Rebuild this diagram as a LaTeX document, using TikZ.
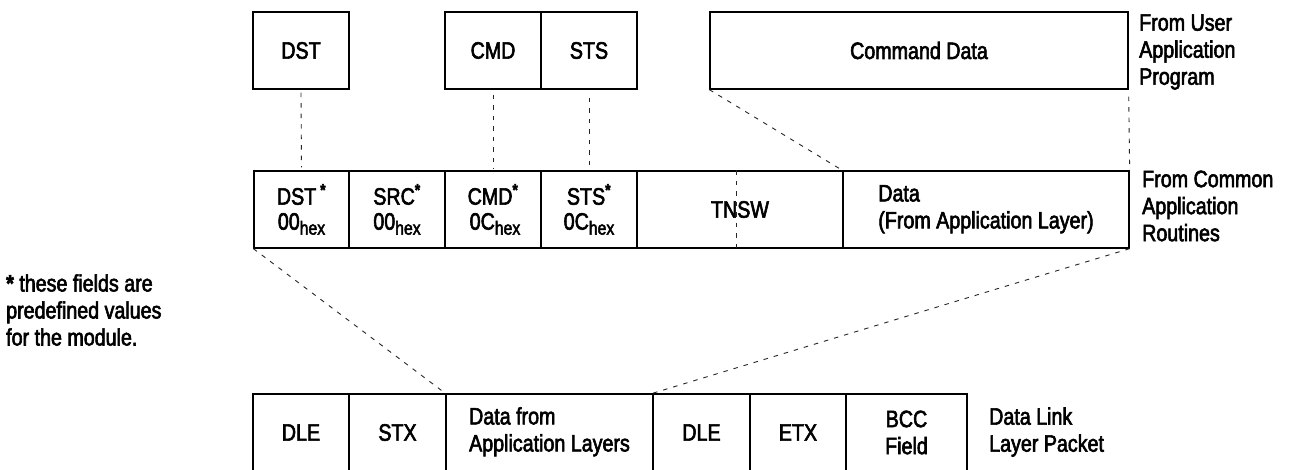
\documentclass[tikz,border=0pt]{standalone}
\usepackage{fontspec}
\setmainfont{Liberation Sans}[FakeStretch=0.83,FakeBold=2.5]
\newcommand{\hexsub}{\raisebox{-5pt}{\fontsize{19}{19}\selectfont hex}}
\begin{document}
\begin{tikzpicture}[x=1pt,y=-1pt,
  every node/.style={font=\fontsize{23.7}{27}\selectfont, text=black},
  cell/.style={draw=black, line width=1.3pt, minimum height=77pt, inner sep=0pt, align=center},
  link/.style={draw=black!85, line width=0.9pt, dash pattern=on 4.5pt off 6pt},
  lbl/.style={inner sep=0pt, align=left, anchor=west}]
\clip (0,0) rectangle (1293,470);
\fill[white] (0,0) rectangle (1293,470);
% top row
\node[cell, minimum width=96pt]  (tDST) at (301,50.5) {DST};
\node[cell, minimum width=96pt]  (tCMD) at (493,50.5) {CMD};
\node[cell, minimum width=96pt]  (tSTS) at (589,50.5) {STS};
\node[cell, minimum width=418pt] (tCD)  at (919,50.5) {Command Data};
% middle row
\node[cell, minimum width=95pt]  (mDST)  at (301.5,209.5) {DST\,\textsuperscript{\textbf{*}}\\[-2pt]00\hexsub};
\node[cell, minimum width=96pt]  (mSRC)  at (397,209.5) {SRC\textsuperscript{\textbf{*}}\\[-2pt]00\hexsub};
\node[cell, minimum width=96pt]  (mCMD)  at (493,209.5) {CMD\textsuperscript{\textbf{*}}\\[-2pt]\,0C\hexsub};
\node[cell, minimum width=96pt]  (mSTS)  at (589,209.5) {STS\textsuperscript{\textbf{*}}\\[-2pt]0C\hexsub};
\node[cell, minimum width=206pt] (mTNSW) at (740,209.5) {TNSW};
\node[cell, minimum width=286pt] (mData) at (986,209.5) {\begin{tabular}{@{}l@{}}Data\\(From Application Layer)\end{tabular}};
% bottom row
\node[cell, minimum width=96pt]  (bDLE1) at (301,432.5) {DLE};
\node[cell, minimum width=97pt]  (bSTX)  at (397.5,432.5) {STX};
\node[cell, minimum width=207pt] (bData) at (549.5,432.5) {\begin{tabular}{@{}l@{}}Data from\\Application Layers\end{tabular}};
\node[cell, minimum width=97pt]  (bDLE2) at (701.5,432.5) {DLE};
\node[cell, minimum width=96pt]  (bETX)  at (798,432.5) {ETX};
\node[cell, minimum width=121pt] (bBCC)  at (906.5,432.5) {BCC\\Field};
% labels
\node[lbl] (lUser)   at (1139,52)  {From User\\Application\\Program};
\node[lbl] (lCommon) at (1142,206) {From Common\\Application\\Routines};
\node[lbl] (lLink)   at (989,432)  {Data Link\\Layer Packet};
\node[lbl] (lNote)   at (6,310)    {\textbf{*} these fields are\\predefined values\\for the module.};
% dashed connectors
\draw[link, shorten <=3pt, shorten >=3pt] (tDST.south) -- (mDST.north);
\draw[link, shorten <=5pt, shorten >=1pt] (tCMD.south) -- (mCMD.north);
\draw[link, shorten <=8pt, shorten >=0pt] (tSTS.south) -- (mSTS.north);
\draw[link] (tCD.south west) -- (mData.north west);
\draw[link, shorten <=7pt] (tCD.south east) -- (mData.north east);
\draw[link] ([xshift=-4pt]mTNSW.north) -- ([xshift=-4pt]mTNSW.south);
\draw[link] (mDST.south west) -- (bData.north west);
\draw[link] (mData.south east) -- (bDLE2.north west);
\end{tikzpicture}
\end{document}
